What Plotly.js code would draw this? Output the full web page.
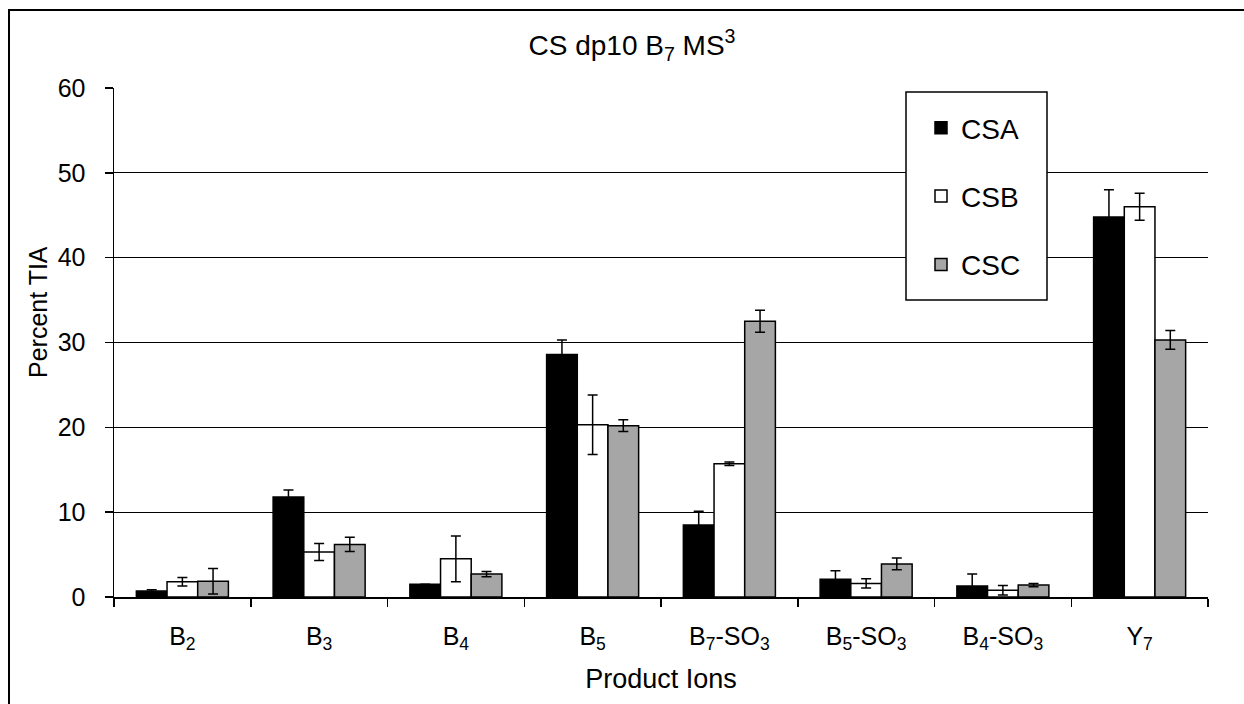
<!DOCTYPE html>
<html>
<head>
<meta charset="utf-8">
<script src="https://cdn.plot.ly/plotly-3.0.1.min.js"></script>
<style>
html, body { margin: 0; padding: 0; background: #fff; }
#chart { width: 1244px; height: 704px; }
</style>
</head>
<body>
<div id="chart"></div>
<script>
const categories = ['B<sub>2</sub>', 'B<sub>3</sub>', 'B<sub>4</sub>', 'B<sub>5</sub>',
  'B<sub>7</sub>-SO<sub>3</sub>', 'B<sub>5</sub>-SO<sub>3</sub>', 'B<sub>4</sub>-SO<sub>3</sub>', 'Y<sub>7</sub>'];
const seriesNames = ['CSA', 'CSB', 'CSC'];
const csaValues = [0.7, 11.8, 1.5, 28.6, 8.5, 2.1, 1.3, 44.8];
const csaErrors = [0.15, 0.8, 0.0, 1.7, 1.6, 1.0, 1.4, 3.2];
const csbValues = [1.8, 5.3, 4.5, 20.3, 15.7, 1.6, 0.8, 46.0];
const csbErrors = [0.5, 1.0, 2.7, 3.5, 0.2, 0.55, 0.55, 1.6];
const cscValues = [1.85, 6.2, 2.7, 20.2, 32.5, 3.9, 1.4, 30.3];
const cscErrors = [1.5, 0.85, 0.3, 0.7, 1.3, 0.7, 0.2, 1.1];
const yTicks = [0, 10, 20, 30, 40, 50, 60];

const FONT = 'Liberation Sans, Arial, sans-serif';
const fills = ['#000000', '#ffffff', '#a6a6a6'];
const vals = [csaValues, csbValues, cscValues];
const errs = [csaErrors, csbErrors, cscErrors];

const traces = seriesNames.map((name, i) => ({
  type: 'bar',
  name: name,
  legendgroup: name,
  x: categories,
  y: vals[i],
  marker: { color: fills[i], line: { color: '#000', width: 1.5 } },
  error_y: { type: 'data', array: errs[i], visible: true, color: '#000', thickness: 1.5, width: 5 },
  hoverinfo: 'x+y+name'
}));

const L = 114, R = 36, T = 88, B = 107;
const PW = 1244 - L - R, PH = 704 - T - B;
const px = v => (v - L) / PW;
const py = v => (704 - B - v) / PH;

const layout = {
  width: 1244, height: 704,
  margin: { l: L, r: R, t: T, b: B, pad: 0 },
  paper_bgcolor: '#fff', plot_bgcolor: '#fff',
  font: { family: FONT, color: '#000', size: 25 },
  title: {
    text: 'CS dp10 B<sub>7</sub> MS<sup>3</sup>',
    font: { family: FONT, size: 28, color: '#000' },
    x: 632 / 1244, xref: 'container', xanchor: 'center',
    y: 1 - 45 / 704, yref: 'container', yanchor: 'middle'
  },
  barmode: 'group', bargap: 0.327, bargroupgap: 0,
  xaxis: {
    type: 'category',
    showline: true, linecolor: '#000', linewidth: 1.5,
    ticks: 'outside', tickson: 'boundaries', ticklen: 8, tickcolor: '#000', tickwidth: 1.5,
    tickfont: { family: FONT, size: 25, color: '#000' },
    ticklabelstandoff: 16,
    showgrid: false, zeroline: false,
    title: { text: 'Product Ions', font: { family: FONT, size: 27, color: '#000' }, standoff: 16 }
  },
  yaxis: {
    range: [0, 60], tickvals: yTicks, ticktext: yTicks.map(String),
    showline: true, linecolor: '#000', linewidth: 1.5,
    ticks: 'outside', ticklen: 8, tickcolor: '#000', tickwidth: 1.5,
    tickfont: { family: FONT, size: 25, color: '#000' },
    ticklabelstandoff: 14,
    showgrid: true, gridcolor: '#000', gridwidth: 1.2,
    zeroline: false
  },
  showlegend: true,
  legend: {
    x: px(921), xanchor: 'left', y: py(103), yanchor: 'top',
    bgcolor: 'rgba(0,0,0,0)', borderwidth: 0,
    font: { family: FONT, size: 28, color: '#000' },
    tracegroupgap: 29, traceorder: 'grouped'
  },
  shapes: [
    { type: 'rect', xref: 'paper', yref: 'paper', layer: 'above',
      x0: px(906), x1: px(1047), y0: py(300), y1: py(92),
      fillcolor: '#fff', line: { color: '#000', width: 1.5 } },
    { type: 'rect', xref: 'paper', yref: 'paper', layer: 'above',
      x0: px(9), x1: px(1260), y0: py(730), y1: py(10),
      fillcolor: 'rgba(0,0,0,0)', line: { color: '#000', width: 2 } }
  ],
  annotations: [
    { text: 'Percent TIA', xref: 'paper', yref: 'paper', x: px(38), y: py(312),
      xanchor: 'center', yanchor: 'middle', textangle: -90, showarrow: false,
      font: { family: FONT, size: 25, color: '#000' } }
  ]
};

Plotly.newPlot('chart', traces, layout, { displayModeBar: false, staticPlot: true });
</script>
</body>
</html>
